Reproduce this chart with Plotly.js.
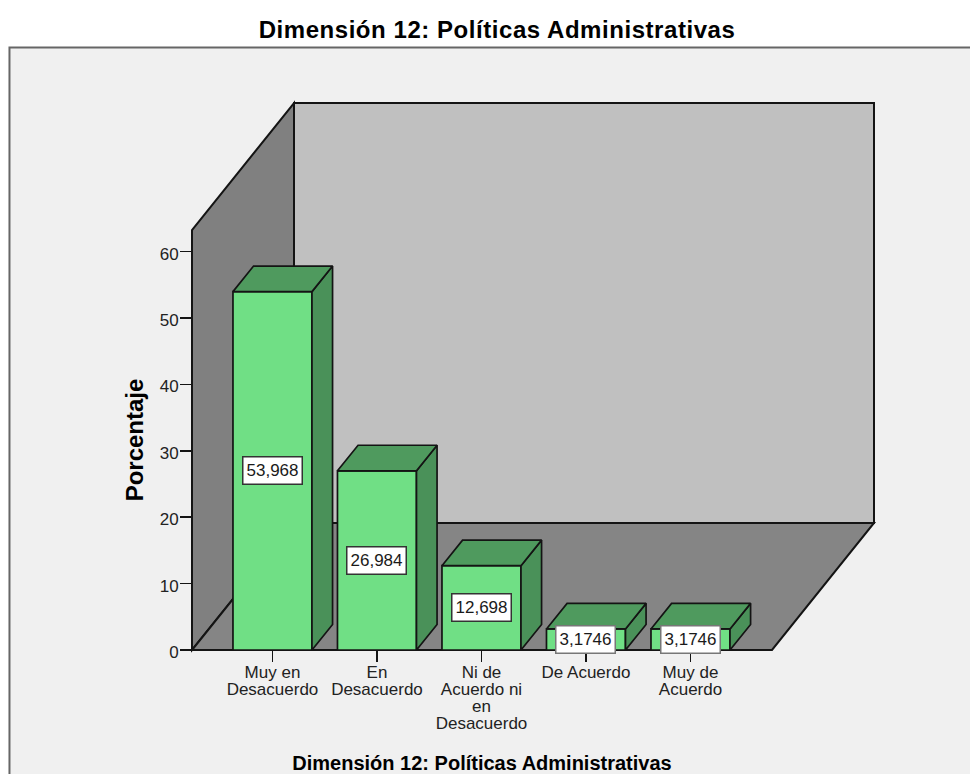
<!DOCTYPE html>
<html>
<head>
<meta charset="utf-8">
<script src="https://cdn.plot.ly/plotly-3.0.1.min.js"></script>
<style>html,body{margin:0;padding:0;background:#fff;overflow:hidden}</style>
</head>
<body>
<div id="chart" style="width:970px;height:774px"></div>
<script>
// Porcentaje de respuestas por categoría
const categories = ["Muy en<br>Desacuerdo", "En<br>Desacuerdo", "Ni de<br>Acuerdo ni<br>en<br>Desacuerdo", "De Acuerdo", "Muy de<br>Acuerdo"];
const percentages = [53.968, 26.984, 12.698, 3.1746, 3.1746];
const yTicks = [0, 10, 20, 30, 40, 50, 60];
const chartTitle = "Dimensión 12: Políticas Administrativas";

// Bar extrusion, in axis units
const barWidth = 0.756, depthX = 0.197, depthY = 3.85;
const positions = categories.map((_, i) => i);

const FONT = "Liberation Sans, Arial, sans-serif";
const EDGE = "#141414";

// Top and side faces of each extruded bar, as one polygon set per face
const topX = [], topY = [], sideX = [], sideY = [];
positions.forEach((p, i) => {
  const l = p - barWidth / 2, r = p + barWidth / 2, v = percentages[i];
  topX.push(l, l + depthX, r + depthX, r, l, null);
  topY.push(v, v + depthY, v + depthY, v, v, null);
  sideX.push(r, r + depthX, r + depthX, r, r, null);
  sideY.push(0, depthY, v + depthY, v, 0, null);
});

const traces = [
  {
    type: "bar", x: positions, y: percentages, width: barWidth,
    marker: {color: "#70df85", line: {color: EDGE, width: 1.7}},
    hoverinfo: "x+y", showlegend: false
  },
  {
    type: "scatter", mode: "lines", x: sideX, y: sideY, fill: "toself", fillcolor: "#4a9159",
    line: {color: EDGE, width: 1.7}, cliponaxis: false, hoverinfo: "skip", showlegend: false
  },
  {
    type: "scatter", mode: "lines", x: topX, y: topY, fill: "toself", fillcolor: "#4f9a5e",
    line: {color: EDGE, width: 1.7}, cliponaxis: false, hoverinfo: "skip", showlegend: false
  }
];

// Value boxes centred on the bar fronts
const valueBoxes = positions.map((p, i) => ({
  x: p, y: percentages[i] / 2, xref: "x", yref: "y",
  text: String(percentages[i]).replace(".", ","),
  showarrow: false, xanchor: "center", yanchor: "middle",
  width: 58, height: 26, borderpad: 0,
  bgcolor: "#ffffff", bordercolor: percentages[i] < 5 ? "#777777" : "#333333",
  borderwidth: 1.5,
  font: {family: FONT, size: 17, color: "#1a1a1a"}
}));

// Room box in paper fractions of the plot area
const wx = 102 / 580, wy = 127 / 420;
const polygon = pts => "M" + pts.map(q => q.join(",")).join("L") + "Z";
const wall = (pts, fill) => ({
  type: "path", xref: "paper", yref: "paper", layer: "below", path: polygon(pts),
  fillcolor: fill, line: {color: EDGE, width: 2}
});
const shapes = [
  {
    type: "rect", xref: "paper", yref: "paper", layer: "below",
    x0: -0.3147, x1: 1.6, y0: -0.5, y1: 1.4345,
    fillcolor: "#f0f0f0", line: {color: "#666666", width: 2}
  },
  wall([[wx, wy], [1 + wx, wy], [1 + wx, 1 + wy], [wx, 1 + wy]], "#c0c0c0"),
  wall([[0, 0], [wx, wy], [wx, 1 + wy], [0, 1]], "#808080"),
  wall([[0, 0], [1, 0], [1 + wx, wy], [wx, wy]], "#858585")
];

const layout = {
  width: 970, height: 774,
  margin: {l: 192, r: 198, t: 230, b: 124, pad: 0},
  paper_bgcolor: "#ffffff", plot_bgcolor: "rgba(0,0,0,0)",
  showlegend: false, bargap: 0,
  title: {
    text: "<b>" + chartTitle + "</b>", x: 497 / 970, xanchor: "center", y: 1 - 30 / 774, yanchor: "middle",
    font: {family: FONT, size: 24, color: "#000"}
  },
  xaxis: {
    range: [-0.77, 4.78], tickmode: "array", tickvals: positions, ticktext: categories,
    ticks: "outside", ticklen: 11, tickwidth: 1.5, tickcolor: EDGE,
    ticklabelstandoff: -4,
    showgrid: false, zeroline: false, showline: false, tickangle: 0,
    tickfont: {family: FONT, size: 17, color: "#222"},
    title: {text: "<b>" + chartTitle + "</b>", standoff: 14, font: {family: FONT, size: 20, color: "#000"}}
  },
  yaxis: {
    range: [0, 63.25], tickmode: "array", tickvals: yTicks,
    ticks: "outside", ticklen: 11, tickwidth: 1.5, tickcolor: EDGE,
    ticklabelstandoff: -2,
    showgrid: false, zeroline: false, showline: false,
    tickfont: {family: FONT, size: 17, color: "#222"},
    title: {text: "<b>Porcentaje</b>", standoff: 9, font: {family: FONT, size: 24, color: "#000"}}
  },
  shapes: shapes,
  annotations: valueBoxes
};

Plotly.newPlot("chart", traces, layout, {displayModeBar: false, staticPlot: true}).then(() => {
  // Tighter leading for the wrapped category labels
  document.querySelectorAll(".xtick text tspan.line").forEach(t => {
    const siblings = Array.from(t.parentNode.querySelectorAll("tspan.line"));
    t.setAttribute("dy", siblings.indexOf(t) + "em");
  });
  // Value-axis numerals sit slightly below their ticks
  document.querySelectorAll(".ytick text").forEach(t => t.setAttribute("dy", "2"));
  // Slight tracking on the main title
  const title = document.querySelector(".gtitle");
  if (title) title.style.letterSpacing = "0.55px";
});
</script>
</body>
</html>
